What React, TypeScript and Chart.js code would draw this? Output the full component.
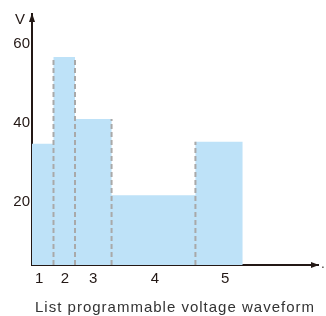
import React, { useEffect, useRef } from "react";
import { Chart, registerables } from "chart.js";

Chart.register(...registerables);

// ---- data ----
const stepStarts = [0, 1, 2, 3.7, 7.6]; // start time of each list step
const stepEnd = 9.8; // end time of last step
const voltages = [34.6, 56.6, 40.9, 21.6, 35.1]; // V for each step
const stepLabels = ["1", "2", "3", "4", "5"];
const stepLabelPos = [0.33, 1.53, 2.84, 5.72, 8.98];
const yTicks = [20, 40, 60];
const yMin = 3.9;
const yMax = 67.5;
const xMin = 0;
const xMax = 13.3;
const titleText = "List programmable voltage waveform";
const yAxisName = "V";

const FONT = '"Liberation Sans", Arial, sans-serif';
const AXIS_COLOR = "#231815";
const FILL_COLOR = "rgb(190,226,248)";
const DASH_COLOR = "#a9a9a9";

export default function App() {
  const ref = useRef<HTMLCanvasElement | null>(null);

  useEffect(() => {
    if (!ref.current) return;

    const wavePoints = stepStarts.map((x, i) => ({ x, y: voltages[i] }));
    wavePoints.push({ x: stepEnd, y: voltages[voltages.length - 1] });

    const dashSets = stepStarts.slice(1).map((b, k) => {
      const h = Math.max(voltages[k], voltages[k + 1]);
      return {
        type: "line" as const,
        data: [
          { x: b, y: yMin },
          { x: b, y: h },
        ],
        borderColor: DASH_COLOR,
        borderWidth: 2,
        borderDash: [5, 3],
        pointRadius: 0,
        fill: false,
      };
    });

    const overlay = {
      id: "overlay",
      afterDraw(chart: any) {
        const { ctx, chartArea } = chart;
        const { left, right, top, bottom } = chartArea;
        ctx.save();
        ctx.fillStyle = AXIS_COLOR;
        // y arrow
        ctx.beginPath();
        ctx.moveTo(left, top - 1);
        ctx.lineTo(left - 3, top + 8);
        ctx.lineTo(left + 3, top + 8);
        ctx.closePath();
        ctx.fill();
        // x arrow
        ctx.beginPath();
        ctx.moveTo(right + 1, bottom);
        ctx.lineTo(right - 7, bottom - 3);
        ctx.lineTo(right - 7, bottom + 3);
        ctx.closePath();
        ctx.fill();
        // axis name
        ctx.font = `15px ${FONT}`;
        ctx.textAlign = "center";
        ctx.textBaseline = "alphabetic";
        ctx.fillText(yAxisName, 20, 24);
        ctx.font = `12px ${FONT}`;
        ctx.fillText(".", right + 5, bottom + 3);
        // title
        ctx.fillStyle = "#333333";
        ctx.font = `15px ${FONT}`;
        (ctx as any).letterSpacing = "1px";
        ctx.fillText(titleText, 175, 312);
        ctx.restore();
      },
    };

    const chart = new Chart(ref.current, {
      type: "line",
      data: {
        datasets: [
          ...dashSets,
          {
            type: "line",
            data: wavePoints,
            stepped: "before",
            borderWidth: 0,
            borderColor: "rgba(0,0,0,0)",
            backgroundColor: FILL_COLOR,
            pointRadius: 0,
            fill: "start",
          },
        ] as any,
      },
      options: {
        animation: false,
        responsive: true,
        maintainAspectRatio: false,
        layout: { padding: { top: 14, right: 8, left: 0, bottom: 0 } },
        plugins: {
          legend: { display: false },
          tooltip: { enabled: false },
          title: { display: false },
        },
        scales: {
          x: {
            type: "linear",
            min: xMin,
            max: xMax,
            z: 1,
            grid: { display: false, drawTicks: false },
            border: { display: true, color: AXIS_COLOR, width: 2 },
            ticks: {
              autoSkip: false,
              maxRotation: 0,
              padding: 5,
              color: AXIS_COLOR,
              font: { family: FONT, size: 15 },
              callback: (_v: any, i: number) => stepLabels[i],
            },
            afterBuildTicks: (scale: any) => {
              scale.ticks = stepLabelPos.map((v) => ({ value: v }));
            },
            afterFit: (scale: any) => {
              scale.height = 51;
            },
          },
          y: {
            type: "linear",
            min: yMin,
            max: yMax,
            z: 1,
            grid: { display: false, drawTicks: false },
            border: { display: true, color: AXIS_COLOR, width: 2 },
            ticks: {
              padding: 2,
              color: AXIS_COLOR,
              font: { family: FONT, size: 15 },
            },
            afterBuildTicks: (scale: any) => {
              scale.ticks = yTicks.map((v) => ({ value: v }));
            },
            afterFit: (scale: any) => {
              scale.width = 32;
            },
          },
        },
      } as any,
      plugins: [overlay],
    });

    return () => chart.destroy();
  }, []);

  return (
    <div style={{ position: "absolute", left: 0, top: 0, width: 326, height: 316 }}>
      <canvas ref={ref} />
    </div>
  );
}
